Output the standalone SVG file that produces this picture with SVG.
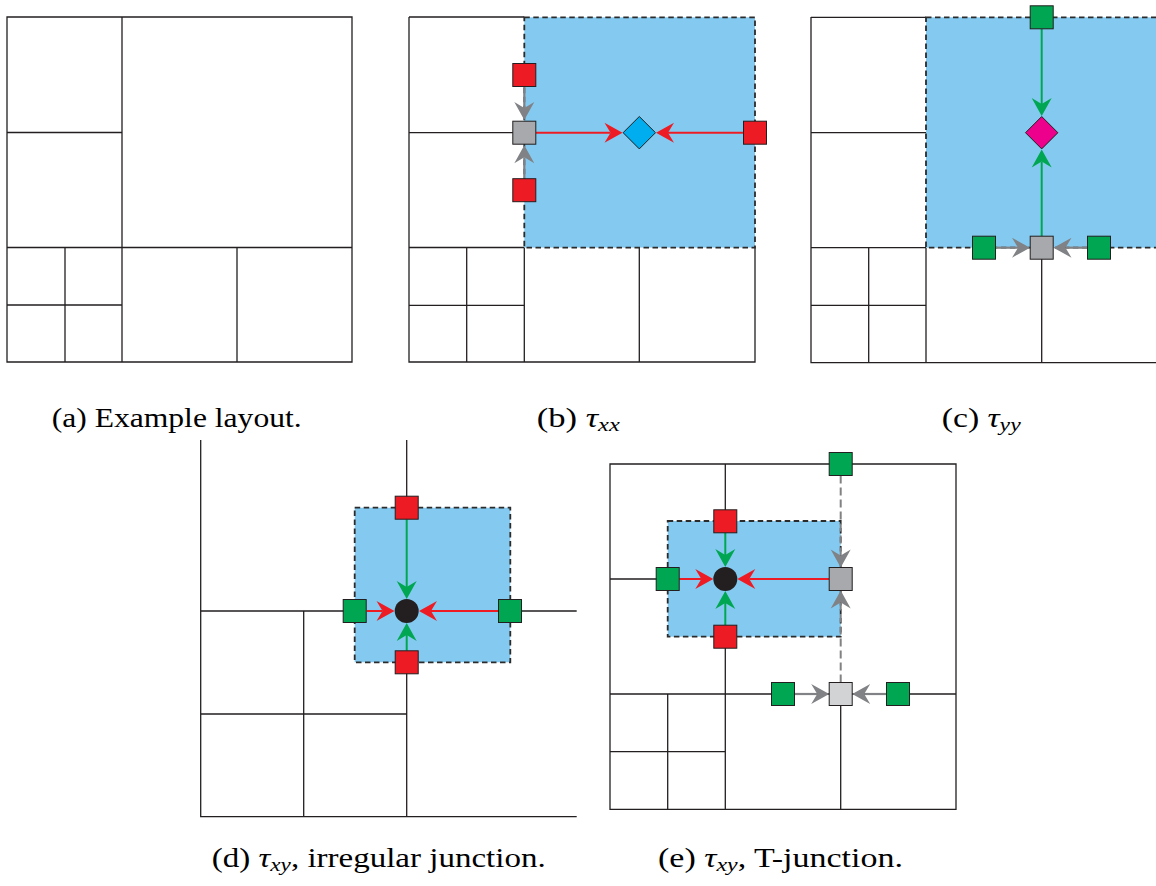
<svg xmlns="http://www.w3.org/2000/svg" width="1156" height="886" viewBox="0 0 1156 886">
<style>
.g{fill:none;stroke:#231F20;stroke-width:1.3}
.blue{fill:#84CAF0;stroke:#2B2B2B;stroke-width:1.8;stroke-dasharray:5.5 3.5}
.sq{stroke:#231F20;stroke-width:1}
.r{fill:#ED1C24}.gr{fill:#00A651}.gy{fill:#A7A9AC}.lg{fill:#D1D3D4}
.ar{stroke:#ED1C24;stroke-width:2;fill:none;marker-end:url(#mr)}
.ag{stroke:#00A651;stroke-width:2;fill:none;marker-end:url(#mg)}
.ay{stroke:#808285;stroke-width:2.2;fill:none;marker-end:url(#my)}
.ad{stroke:#808285;stroke-width:2;fill:none;stroke-dasharray:8 4;marker-end:url(#my)}
.cap{font-family:'Liberation Serif','DejaVu Serif','Times New Roman',serif;font-size:27px;fill:#000}
.m{font-style:italic}
.s{font-style:italic;font-size:19px}
</style>
<defs>
<marker id="mr" viewBox="-7 -11 20 22" refX="0" refY="0" markerWidth="20" markerHeight="22" markerUnits="userSpaceOnUse" orient="auto"><path d="M12,0 L-6,-10 L0,0 L-6,10 Z" fill="#ED1C24"/></marker>
<marker id="mg" viewBox="-7 -11 20 22" refX="0" refY="0" markerWidth="20" markerHeight="22" markerUnits="userSpaceOnUse" orient="auto"><path d="M12,0 L-6,-10 L0,0 L-6,10 Z" fill="#00A651"/></marker>
<marker id="my" viewBox="-7 -11 20 22" refX="0" refY="0" markerWidth="20" markerHeight="22" markerUnits="userSpaceOnUse" orient="auto"><path d="M12,0 L-6,-10 L0,0 L-6,10 Z" fill="#808285"/></marker>
</defs>

<g id="panel-a">
<path class="g" d="M7,17H352V362H7Z M122,17V362 M7,132.5H122 M7,247.5H352 M65,247.5V362 M7,305H122 M237,247.5V362"/>
</g>

<g id="panel-b">
<path class="g" d="M409,17V362H755V247.5 M409,17H524.3 M524.3,247.5V362 M409,132.7H524.3 M409,247.5H524.3 M466.7,247.5V362 M409,305.3H524.3 M639.3,247.5V362"/>
<rect id="b-region" class="blue" x="524.3" y="17.3" width="230.7" height="230.3"/>
</g>

<g id="panel-c">
<path class="g" d="M811,17V362.7H1157 M811,17.3H926 M926,247.7V362.7 M811,132.7H926 M811,247.7H926 M868.7,247.7V362.7 M811,305.3H926 M1041.7,247.7V362.7"/>
<rect id="c-region" class="blue" x="926" y="17.3" width="231" height="230.4"/>
</g>

<g id="panel-d">
<path class="g" d="M200.7,440V816.7H576.7 M406.7,440V816.7 M200.7,611H576.7 M303.7,611V816.7 M200.7,714H406.7"/>
<rect id="d-region" class="blue" x="354.7" y="507.7" width="155.6" height="154.6"/>
</g>

<g id="panel-e">
<path class="g" d="M610,464H956V809.3H610Z M725.3,464V809.3 M610,694H956 M610,579H725.3 M667.7,694V809.3 M610,751.7H725.3 M840.7,694V809.3"/>
<rect id="e-region" class="blue" x="667.7" y="521" width="173" height="115.7"/>
</g>

<g id="connectors">
<line class="ay" x1="524.3" y1="86.5" x2="524.3" y2="108"/>
<line class="ay" x1="524.3" y1="178.7" x2="524.3" y2="157.3"/>
<line class="ar" x1="536" y1="132.7" x2="610.5" y2="132.7"/>
<line class="ar" x1="743.5" y1="132.7" x2="668" y2="132.7"/>
<line class="ag" x1="1041.7" y1="29" x2="1041.7" y2="104"/>
<line class="ag" x1="1041.7" y1="236" x2="1041.7" y2="161.5"/>
<line class="ay" x1="995.7" y1="247.7" x2="1018" y2="247.7"/>
<line class="ay" x1="1087.3" y1="247.7" x2="1065.5" y2="247.7"/>
<line class="ar" x1="366.7" y1="611" x2="382.5" y2="611"/>
<line class="ar" x1="498.5" y1="611" x2="431" y2="611"/>
<line class="ag" x1="406.7" y1="519.2" x2="406.7" y2="587"/>
<line class="ag" x1="406.7" y1="650.8" x2="406.7" y2="635"/>
<line class="ar" x1="679.2" y1="579" x2="701.3" y2="579"/>
<line class="ar" x1="829.2" y1="579" x2="749.3" y2="579"/>
<line class="ag" x1="725.3" y1="532.8" x2="725.3" y2="555"/>
<line class="ag" x1="725.3" y1="625.2" x2="725.3" y2="603"/>
<line class="ad" x1="840.7" y1="475.5" x2="840.7" y2="555.5"/>
<line class="ad" x1="840.7" y1="682.5" x2="840.7" y2="602.5"/>
<line class="ay" x1="794.5" y1="694" x2="817.2" y2="694"/>
<line class="ay" x1="886.5" y1="694" x2="864.2" y2="694"/>
</g>

<g id="b-top"><rect class="sq r" x="512.8" y="63.5" width="23" height="23"/></g>
<g id="b-center"><rect class="sq gy" x="512.8" y="121.2" width="23" height="23"/></g>
<g id="b-bottom"><rect class="sq r" x="512.8" y="178.7" width="23" height="23"/></g>
<g id="b-right"><rect class="sq r" x="743.5" y="121.2" width="23" height="23"/></g>
<g id="b-diamond"><path class="sq" fill="#00AEEF" d="M639.3,116.5L655.5,132.7L639.3,148.9L623.1,132.7Z"/></g>

<g id="c-top"><rect class="sq gr" x="1030.2" y="5.8" width="23" height="23"/></g>
<g id="c-diamond"><path class="sq" fill="#EC008C" d="M1041.7,116.5L1057.9,132.7L1041.7,148.9L1025.5,132.7Z"/></g>
<g id="c-center"><rect class="sq gy" x="1030.2" y="236.2" width="23" height="23"/></g>
<g id="c-left"><rect class="sq gr" x="972.5" y="236.2" width="23" height="23"/></g>
<g id="c-right"><rect class="sq gr" x="1087.5" y="236.2" width="23" height="23"/></g>

<g id="d-top"><rect class="sq r" x="395.2" y="496.2" width="23" height="23"/></g>
<g id="d-bottom"><rect class="sq r" x="395.2" y="650.8" width="23" height="23"/></g>
<g id="d-left"><rect class="sq gr" x="343.2" y="599.5" width="23" height="23"/></g>
<g id="d-right"><rect class="sq gr" x="498.5" y="599.5" width="23" height="23"/></g>
<g id="d-center"><circle cx="406.7" cy="611" r="12" fill="#231F20"/></g>

<g id="e-top"><rect class="sq r" x="713.8" y="509.8" width="23" height="23"/></g>
<g id="e-bottom"><rect class="sq r" x="713.8" y="625.2" width="23" height="23"/></g>
<g id="e-left"><rect class="sq gr" x="656.2" y="567.5" width="23" height="23"/></g>
<g id="e-gray"><rect class="sq gy" x="829.2" y="567.5" width="23" height="23"/></g>
<g id="e-center"><circle cx="725.3" cy="579" r="12" fill="#231F20"/></g>
<g id="e-topgreen"><rect class="sq gr" x="829.2" y="452.5" width="23" height="23"/></g>
<g id="e-lightgray"><rect class="sq lg" x="829.2" y="682.5" width="23" height="23"/></g>
<g id="e-gl"><rect class="sq gr" x="771.5" y="682.5" width="23" height="23"/></g>
<g id="e-gr"><rect class="sq gr" x="886.5" y="682.5" width="23" height="23"/></g>

<g id="captions">
<text class="cap" font-family="Liberation Serif, DejaVu Serif, serif" x="51.7" y="427" textLength="250" lengthAdjust="spacingAndGlyphs">(a) Example layout.</text>
<text class="cap" font-family="Liberation Serif, DejaVu Serif, serif" x="536.7" y="427" textLength="83" lengthAdjust="spacingAndGlyphs">(b) <tspan class="m">τ</tspan><tspan class="s" dy="4">xx</tspan></text>
<text class="cap" font-family="Liberation Serif, DejaVu Serif, serif" x="941.7" y="427" textLength="79" lengthAdjust="spacingAndGlyphs">(c) <tspan class="m">τ</tspan><tspan class="s" dy="4">yy</tspan></text>
<text class="cap" font-family="Liberation Serif, DejaVu Serif, serif" x="211.7" y="867" textLength="334" lengthAdjust="spacingAndGlyphs">(d) <tspan class="m">τ</tspan><tspan class="s" dy="4">xy</tspan><tspan dy="-4">, irregular junction.</tspan></text>
<text class="cap" font-family="Liberation Serif, DejaVu Serif, serif" x="658" y="867" textLength="245" lengthAdjust="spacingAndGlyphs">(e) <tspan class="m">τ</tspan><tspan class="s" dy="4">xy</tspan><tspan dy="-4">, T-junction.</tspan></text>
</g>
</svg>
